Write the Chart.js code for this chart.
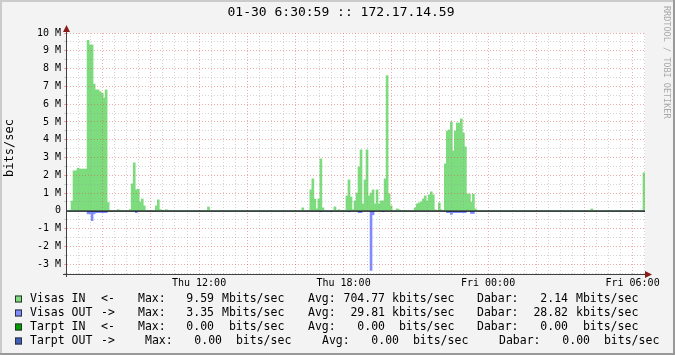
<!DOCTYPE html>
<html>
<head>
<meta charset="utf-8">
<script src="https://cdn.jsdelivr.net/npm/chart.js@4.4.0/dist/chart.umd.min.js"></script>
<style>
  html, body { margin: 0; padding: 0; background: #f3f3f3; }
  #chart { display: block; }
</style>
</head>
<body>
<canvas id="chart" width="675" height="355"></canvas>
<script>
// 5-minute slots from Thu 06:30:59 to Fri 06:30:59, values in Mbits/sec
const startHour = 6 + 30 / 60 + 59 / 3600;
const slotHours = 5 / 60;

const visasIn = [
  0, 0, 0.55, 2.25, 2.25, 2.4, 2.35, 2.35, 2.35, 2.35, 9.59, 9.33, 9.33, 7.13, 6.8, 6.8, 6.7, 6.62, 6.35, 6.8, 0.47, 0, 0, 0,
  0, 0.07, 0, 0, 0, 0, 0, 0.07, 1.52, 2.7, 1.18, 1.22, 0.5, 0.67, 0.28, 0, 0, 0, 0, 0, 0.28, 0.62, 0.07, 0,
  0, 0.07, 0, 0, 0, 0, 0, 0, 0, 0, 0, 0, 0, 0, 0, 0, 0, 0, 0, 0, 0, 0, 0.22, 0,
  0, 0, 0, 0, 0, 0, 0, 0, 0, 0, 0, 0, 0, 0, 0, 0, 0, 0, 0, 0, 0, 0, 0, 0,
  0, 0, 0, 0, 0, 0, 0, 0, 0, 0, 0, 0, 0, 0, 0, 0, 0, 0, 0, 0, 0, 0.17, 0, 0,
  0, 1.18, 1.8, 0.67, 0.11, 0.67, 2.92, 0.17, 0, 0, 0, 0, 0, 0.22, 0, 0.06, 0, 0, 0, 0.84, 1.74, 0.78, 0.06, 0.56,
  1.0, 2.47, 3.43, 0.39, 1.74, 3.43, 0.84, 1.0, 1.18, 0.39, 1.18, 0.39, 0.56, 0.56, 1.8, 7.6, 0.96, 0.28, 0, 0, 0.11, 0.06, 0, 0,
  0, 0, 0, 0, 0, 0.17, 0.39, 0.45, 0.5, 0.67, 0.84, 0.56, 0.9, 1.07, 0.9, 0.06, 0, 0.45, 0.06, 0, 2.64, 4.49, 4.55, 5.0,
  3.37, 4.49, 4.94, 4.94, 5.17, 4.38, 3.6, 0.95, 0.95, 0.5, 0.95, 0.11, 0, 0, 0, 0, 0, 0, 0, 0, 0, 0, 0, 0,
  0, 0, 0, 0, 0, 0, 0, 0, 0, 0, 0, 0, 0, 0, 0, 0, 0, 0, 0, 0, 0, 0, 0, 0,
  0, 0, 0, 0, 0, 0, 0, 0, 0, 0, 0, 0, 0, 0, 0, 0, 0, 0, 0, 0, 0, 0.11, 0, 0,
  0, 0, 0, 0, 0, 0, 0, 0, 0, 0, 0, 0, 0, 0, 0, 0, 0, 0, 0, 0, 0, 0, 0, 2.14
];

const visasOut = [
  0, 0, 0, 0, 0, 0, 0, 0, 0, 0, -0.17, -0.17, -0.55, -0.17, -0.1, -0.1, -0.1, -0.1, -0.1, -0.1, 0, 0, 0, 0,
  0, 0, 0, 0, 0, 0, 0, 0, 0, 0, -0.1, 0, 0, 0, 0, 0, 0, 0, 0, 0, 0, 0, 0, 0,
  0, 0, 0, 0, 0, 0, 0, 0, 0, 0, 0, 0, 0, 0, 0, 0, 0, 0, 0, 0, 0, 0, 0, 0,
  0, 0, 0, 0, 0, 0, 0, 0, 0, 0, 0, 0, 0, 0, 0, 0, 0, 0, 0, 0, 0, 0, 0, 0,
  0, 0, 0, 0, 0, 0, 0, 0, 0, 0, 0, 0, 0, 0, 0, 0, 0, 0, 0, 0, 0, 0, 0, 0,
  0, 0, 0, 0, 0, 0, -0.05, 0, 0, 0, 0, -0.05, 0, 0, 0, 0, 0, 0, 0, 0, -0.05, 0, 0, 0,
  0, -0.1, -0.1, 0, 0, 0, 0, -3.35, -0.22, 0, 0, 0, 0, -0.05, 0, 0, 0, 0, 0, 0, 0, 0, 0, 0,
  0, 0, 0, 0, 0, 0, 0, 0, 0, 0, 0, 0, 0, 0, 0, 0, 0, 0, 0, 0, 0, -0.1, -0.1, -0.2,
  -0.1, -0.1, -0.1, -0.1, -0.1, -0.1, -0.1, 0, 0, -0.15, -0.15, 0, 0, 0, 0, 0, 0, 0, 0, 0, 0, 0, 0, 0,
  0, 0, 0, 0, 0, 0, 0, 0, 0, 0, 0, 0, 0, 0, 0, 0, 0, 0, 0, 0, 0, 0, 0, 0,
  0, 0, 0, 0, 0, 0, 0, 0, 0, 0, 0, 0, 0, 0, 0, 0, 0, 0, 0, 0, 0, 0, 0, 0,
  0, 0, 0, 0, 0, 0, 0, 0, 0, 0, 0, 0, 0, 0, 0, 0, 0, 0, 0, 0, 0, 0, 0, -0.03
];

// x tick labels (hours since Thu 00:00)
const labelHours = [12, 18, 24, 30];
const labelTexts = ['Thu 12:00', 'Thu 18:00', 'Fri 00:00', 'Fri 06:00'];

// legend
const seriesNames = ['Visas IN', 'Visas OUT', 'Tarpt IN', 'Tarpt OUT'];
const seriesArrows = ['<-', '->', '<-', '->'];
const seriesColors = ['#7ddc7d', '#7f8cff', '#00a000', '#4060c0'];
const maxVals = ['9.59', '3.35', '0.00', '0.00'];
const maxUnits = ['Mbits/sec', 'Mbits/sec', ' bits/sec', ' bits/sec'];
const avgVals = ['704.77', '29.81', '0.00', '0.00'];
const avgUnits = ['kbits/sec', 'kbits/sec', ' bits/sec', ' bits/sec'];
const lastVals = ['2.14', '28.82', '0.00', '0.00'];
const lastUnits = ['Mbits/sec', 'kbits/sec', ' bits/sec', ' bits/sec'];

const MONO = "'DejaVu Sans Mono', monospace";
const majorGrid = 'rgba(220, 70, 70, 0.45)';
const minorGrid = 'rgba(150, 150, 150, 0.4)';

const toPoints = arr => arr.map((v, i) => ({ x: startHour + (i + 0.5) * slotHours, y: v }));

const rrdPlugin = {
  id: 'rrd',
  beforeDraw(chart) {
    const { ctx, chartArea: a } = chart;
    ctx.save();
    ctx.fillStyle = '#f3f3f3';
    ctx.fillRect(0, 0, chart.width, chart.height);
    ctx.fillStyle = '#ffffff';
    ctx.fillRect(a.left, a.top, a.right - a.left, a.bottom - a.top);
    ctx.restore();
  },
  afterDraw(chart) {
    const { ctx, chartArea: a, scales } = chart;
    const W = chart.width, H = chart.height;
    ctx.save();

    // zero line
    const y0 = scales.y.getPixelForValue(0);
    ctx.fillStyle = '#000';
    ctx.fillRect(a.left, Math.round(y0) - 0.5, a.right - a.left, 1.2);

    // axes
    ctx.strokeStyle = '#404040';
    ctx.lineWidth = 1;
    ctx.beginPath();
    ctx.moveTo(a.left - 0.5, a.top - 4);
    ctx.lineTo(a.left - 0.5, a.bottom + 3);
    ctx.moveTo(a.left - 4, a.bottom + 0.5);
    ctx.lineTo(a.right + 2, a.bottom + 0.5);
    ctx.stroke();

    // arrows
    ctx.fillStyle = '#8a1c1c';
    ctx.beginPath();
    ctx.moveTo(a.left - 0.5, a.top - 8);
    ctx.lineTo(a.left - 4, a.top - 1);
    ctx.lineTo(a.left + 3, a.top - 1);
    ctx.closePath();
    ctx.fill();
    ctx.beginPath();
    ctx.moveTo(a.right + 7, a.bottom + 0.5);
    ctx.lineTo(a.right, a.bottom - 3);
    ctx.lineTo(a.right, a.bottom + 4);
    ctx.closePath();
    ctx.fill();

    // title
    ctx.fillStyle = '#000';
    ctx.font = '13px ' + MONO;
    ctx.textAlign = 'center';
    ctx.textBaseline = 'middle';
    ctx.fillText('01-30 6:30:59 :: 172.17.14.59', 341, 13);

    // unit
    ctx.save();
    ctx.translate(10, 148);
    ctx.rotate(-Math.PI / 2);
    ctx.font = '12px ' + MONO;
    ctx.fillText('bits/sec', 0, 0);
    ctx.restore();

    // watermark
    ctx.save();
    ctx.translate(666, 6);
    ctx.rotate(Math.PI / 2);
    ctx.font = '8.5px ' + MONO;
    ctx.fillStyle = '#a8a8a8';
    ctx.textAlign = 'left';
    ctx.fillText('RRDTOOL / TOBI OETIKER', 0, 0);
    ctx.restore();

    // legend
    ctx.font = '11.5px ' + MONO;
    ctx.textBaseline = 'middle';
    const rowY = [299, 313, 327, 341];
    const colsA = { max: 138, maxR: 214, maxU: 222, avg: 308, avgR: 385, avgU: 392, last: 477, lastR: 568, lastU: 576 };
    const colsB = { max: 145, maxR: 222, maxU: 229, avg: 322, avgR: 399, avgU: 406, last: 499, lastR: 590, lastU: 597 };
    for (let i = 0; i < seriesNames.length; i++) {
      const y = rowY[i];
      const c = i === 3 ? colsB : colsA;
      ctx.fillStyle = seriesColors[i];
      ctx.fillRect(15, y - 3.5, 7, 7);
      ctx.strokeStyle = '#303030';
      ctx.strokeRect(15.5, y - 3, 6, 6);
      ctx.fillStyle = '#000';
      ctx.textAlign = 'left';
      ctx.fillText(seriesNames[i], 30, y);
      ctx.fillText(seriesArrows[i], 101, y);
      ctx.fillText('Max:', c.max, y);
      ctx.fillText(maxUnits[i], c.maxU, y);
      ctx.fillText('Avg:', c.avg, y);
      ctx.fillText(avgUnits[i], c.avgU, y);
      ctx.fillText('Dabar:', c.last, y);
      ctx.fillText(lastUnits[i], c.lastU, y);
      ctx.textAlign = 'right';
      ctx.fillText(maxVals[i], c.maxR, y);
      ctx.fillText(avgVals[i], c.avgR, y);
      ctx.fillText(lastVals[i], c.lastR, y);
    }

    // 3D frame
    ctx.fillStyle = '#cbcbcb';
    ctx.fillRect(0, 0, W, 2);
    ctx.fillRect(0, 0, 2, H);
    ctx.fillStyle = '#999999';
    ctx.fillRect(W - 2, 0, 2, H);
    ctx.fillRect(0, H - 2, W, 2);
    ctx.restore();
  }
};

new Chart(document.getElementById('chart'), {
  type: 'bar',
  data: {
    datasets: [
      {
        label: 'Visas IN',
        data: toPoints(visasIn),
        backgroundColor: seriesColors[0],
        borderWidth: 0,
        grouped: false,
        barPercentage: 1,
        categoryPercentage: 1
      },
      {
        label: 'Visas OUT',
        data: toPoints(visasOut),
        backgroundColor: seriesColors[1],
        borderWidth: 0,
        grouped: false,
        barPercentage: 1,
        categoryPercentage: 1
      }
    ]
  },
  options: {
    responsive: false,
    devicePixelRatio: 1,
    animation: false,
    events: [],
    layout: { padding: { left: 0, right: 30, top: 33, bottom: 0 } },
    plugins: { legend: { display: false }, tooltip: { enabled: false }, title: { display: false } },
    scales: {
      x: {
        type: 'linear',
        bounds: 'data',
        offset: false,
        min: startHour,
        max: startHour + 24,
        afterBuildTicks: scale => {
          const t = [];
          for (let h = 7; h <= 30.5; h += 0.5) t.push({ value: h });
          scale.ticks = t;
        },
        afterFit: scale => { scale.height = 81; },
        grid: {
          z: 1,
          offset: false,
          drawTicks: false,
          color: c => (c.tick && c.tick.value % 2 === 0 ? majorGrid : minorGrid)
        },
        border: { display: false, dash: [1, 2] },
        ticks: {
          autoSkip: false,
          maxRotation: 0,
          padding: 3,
          color: '#000',
          font: { family: MONO, size: 10 },
          callback: v => {
            const k = labelHours.indexOf(v);
            return k >= 0 ? labelTexts[k] : '';
          }
        }
      },
      y: {
        type: 'linear',
        bounds: 'data',
        min: -3.55,
        max: 10,
        afterBuildTicks: scale => {
          const t = [];
          for (let k = -7; k <= 20; k++) t.push({ value: k / 2 });
          scale.ticks = t;
        },
        afterFit: scale => { scale.width = 67; },
        grid: {
          z: 1,
          drawTicks: true,
          tickLength: 3,
          color: c => {
            const v = c.tick ? c.tick.value : 1;
            if (v === 0) return 'rgba(0,0,0,0)';
            return Number.isInteger(v) ? majorGrid : minorGrid;
          }
        },
        border: { display: false, dash: [1, 2] },
        ticks: {
          autoSkip: false,
          padding: 3,
          color: '#000',
          font: { family: MONO, size: 10 },
          callback: v => (Number.isInteger(v) ? (v === 0 ? '0' : v + ' M') : '')
        }
      }
    }
  },
  plugins: [rrdPlugin]
});
</script>
</body>
</html>
